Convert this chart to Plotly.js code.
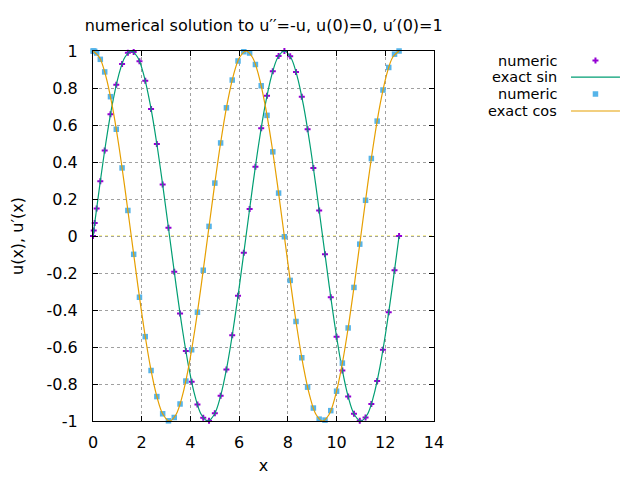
<!DOCTYPE html>
<html>
<head>
<meta charset="utf-8">
<script src="https://cdn.plot.ly/plotly-3.0.1.min.js"></script>
<style>html,body{margin:0;padding:0;background:#fff;}#plot{width:640px;height:480px;}</style>
</head>
<body>
<div id="plot"></div>
<script>
// numerical solution points (x, u, u')
var xNum = [0, 0.03, 0.07, 0.15, 0.30, 0.480, 0.718, 0.956, 1.194, 1.432, 1.670, 1.908, 2.146, 2.384, 2.622, 2.860, 3.098, 3.336, 3.574, 3.812, 4.050, 4.288, 4.526, 4.764, 5.002, 5.240, 5.478, 5.716, 5.954, 6.192, 6.430, 6.668, 6.906, 7.144, 7.382, 7.620, 7.858, 8.096, 8.334, 8.572, 8.810, 9.048, 9.286, 9.524, 9.762, 10.000, 10.238, 10.476, 10.714, 10.952, 11.190, 11.428, 11.666, 11.904, 12.142, 12.380, 12.566];
var uNum = [0, 0.03, 0.07, 0.149, 0.296, 0.462, 0.658, 0.817, 0.930, 0.990, 0.995, 0.944, 0.839, 0.687, 0.497, 0.278, 0.044, -0.193, -0.419, -0.621, -0.788, -0.911, -0.983, -0.999, -0.958, -0.864, -0.721, -0.537, -0.323, -0.091, 0.146, 0.375, 0.583, 0.758, 0.891, 0.973, 1.000, 0.971, 0.887, 0.753, 0.577, 0.368, 0.138, -0.099, -0.331, -0.544, -0.727, -0.868, -0.961, -0.999, -0.981, -0.908, -0.784, -0.615, -0.412, -0.185, 0];
var duNum = [1, 1.000, 0.998, 0.989, 0.955, 0.887, 0.753, 0.577, 0.368, 0.138, -0.099, -0.331, -0.544, -0.727, -0.868, -0.961, -0.999, -0.981, -0.908, -0.784, -0.615, -0.412, -0.185, 0.052, 0.286, 0.503, 0.693, 0.843, 0.946, 0.996, 0.989, 0.927, 0.812, 0.652, 0.455, 0.232, -0.004, -0.240, -0.462, -0.658, -0.817, -0.930, -0.990, -0.995, -0.944, -0.839, -0.687, -0.497, -0.278, -0.044, 0.193, 0.419, 0.621, 0.789, 0.911, 0.983, 1];

// exact curves, sampled
var xExact = [0, 0.2618, 0.5236, 0.7854, 1.0472, 1.309, 1.5708, 1.8326, 2.0944, 2.3562, 2.618, 2.8798, 3.1416, 3.4034, 3.6652, 3.927, 4.1888, 4.4506, 4.7124, 4.9742, 5.236, 5.4978, 5.7596, 6.0214, 6.2832, 6.545, 6.8068, 7.0686, 7.3304, 7.5922, 7.854, 8.1158, 8.3776, 8.6394, 8.9012, 9.163, 9.4248, 9.6866, 9.9484, 10.2102, 10.472, 10.7338, 10.9956, 11.2574, 11.5192, 11.781, 12.0428, 12.3046, 12.5664];
var sinExact = [0, 0.259, 0.5, 0.707, 0.866, 0.966, 1, 0.966, 0.866, 0.707, 0.5, 0.259, 0, -0.259, -0.5, -0.707, -0.866, -0.966, -1, -0.966, -0.866, -0.707, -0.5, -0.259, 0, 0.259, 0.5, 0.707, 0.866, 0.966, 1, 0.966, 0.866, 0.707, 0.5, 0.259, 0, -0.259, -0.5, -0.707, -0.866, -0.966, -1, -0.966, -0.866, -0.707, -0.5, -0.259, 0];
var cosExact = [1, 0.966, 0.866, 0.707, 0.5, 0.259, 0, -0.259, -0.5, -0.707, -0.866, -0.966, -1, -0.966, -0.866, -0.707, -0.5, -0.259, 0, 0.259, 0.5, 0.707, 0.866, 0.966, 1, 0.966, 0.866, 0.707, 0.5, 0.259, 0, -0.259, -0.5, -0.707, -0.866, -0.966, -1, -0.966, -0.866, -0.707, -0.5, -0.259, 0, 0.259, 0.5, 0.707, 0.866, 0.966, 1];

// tick labels
var xTickVals = [0, 2, 4, 6, 8, 10, 12, 14];
var xTickText = ['0', '2', '4', '6', '8', '10', '12', '14'];
var yTickVals = [-1, -0.8, -0.6, -0.4, -0.2, 0, 0.2, 0.4, 0.6, 0.8, 1];
var yTickText = ['-1', '-0.8', '-0.6', '-0.4', '-0.2', '0', '0.2', '0.4', '0.6', '0.8', '1'];

// legend labels (drawn right-aligned, left of the legend samples, as in the original)
var seriesNames = ['numeric', 'exact sin', 'numeric', 'exact cos'];

var FONT = 'DejaVu Sans, sans-serif';

var traces = [
  {x: xNum, y: uNum, type: 'scatter', mode: 'markers', name: '', legend: 'legend',
   marker: {symbol: 'cross', size: 5, color: '#9400d3'}, cliponaxis: false},
  {x: xExact, y: sinExact, type: 'scatter', mode: 'lines', name: '', legend: 'legend2',
   line: {color: '#009e73', width: 1.2, shape: 'spline'}},
  {x: xNum, y: duNum, type: 'scatter', mode: 'markers', name: '', legend: 'legend3',
   marker: {symbol: 'square', size: 5.5, color: '#56b4e9'}, cliponaxis: false},
  {x: xExact, y: cosExact, type: 'scatter', mode: 'lines', name: '', legend: 'legend4',
   line: {color: '#e69f00', width: 1.2, shape: 'spline'}}
];

var rowY = [0.9743, 0.9292, 0.8838, 0.8378];
var legX = 1.387;
function mkLegend(i) {
  return {x: legX, y: rowY[i], xanchor: 'left', yanchor: 'middle', bgcolor: 'rgba(0,0,0,0)',
          borderwidth: 0, itemwidth: 49, font: {family: FONT, size: 8, color: 'rgba(0,0,0,0)'}};
}

var annotations = seriesNames.map(function (n, i) {
  return {text: n, xref: 'paper', yref: 'paper', x: 1.3666, y: rowY[i], xanchor: 'right', yanchor: 'middle',
          showarrow: false, font: {family: FONT, size: 14.5, color: '#000'}};
});

var axisCommon = {
  showline: true, linecolor: '#000', linewidth: 1, mirror: 'allticks',
  ticks: 'inside', ticklen: 5, tickcolor: '#000', tickwidth: 1,
  showgrid: true, gridcolor: '#a0a0a0', gridwidth: 1, griddash: '3px,3px',
  zeroline: false, tickfont: {family: FONT, size: 16, color: '#000'}, tickmode: 'array'
};

var layout = {
  width: 640, height: 480,
  margin: {l: 93, r: 206, t: 51, b: 59, autoexpand: false},
  paper_bgcolor: '#fff', plot_bgcolor: '#fff',
  font: {family: FONT, size: 16, color: '#000'},
  title: {text: 'numerical solution to u\u2032\u2032=-u, u(0)=0, u\u2032(0)=1', x: 0.412, xanchor: 'center',
          y: 1 - 25 / 480, yanchor: 'middle', font: {family: FONT, size: 16, color: '#000'}},
  xaxis: Object.assign({}, axisCommon, {range: [0, 14], tickvals: xTickVals, ticktext: xTickText,
          ticklabelstandoff: 7, automargin: false, title: {text: 'x', standoff: 8, font: {family: FONT, size: 16}}}),
  yaxis: Object.assign({}, axisCommon, {range: [-1, 1], tickvals: yTickVals, ticktext: yTickText,
          ticklabelstandoff: 11, automargin: false, title: {text: 'u(x), u\u2032(x)', standoff: 18, font: {family: FONT, size: 16}}}),
  showlegend: true,
  legend: mkLegend(0), legend2: mkLegend(1), legend3: mkLegend(2), legend4: mkLegend(3),
  annotations: annotations,
  shapes: [{type: 'line', xref: 'paper', x0: 0, x1: 1, yref: 'y', y0: 0, y1: 0, layer: 'between',
            line: {color: '#f0e442', width: 1, dash: '3px,3px'}}]
};

Plotly.newPlot('plot', traces, layout, {displayModeBar: false, staticPlot: true});
</script>
</body>
</html>
